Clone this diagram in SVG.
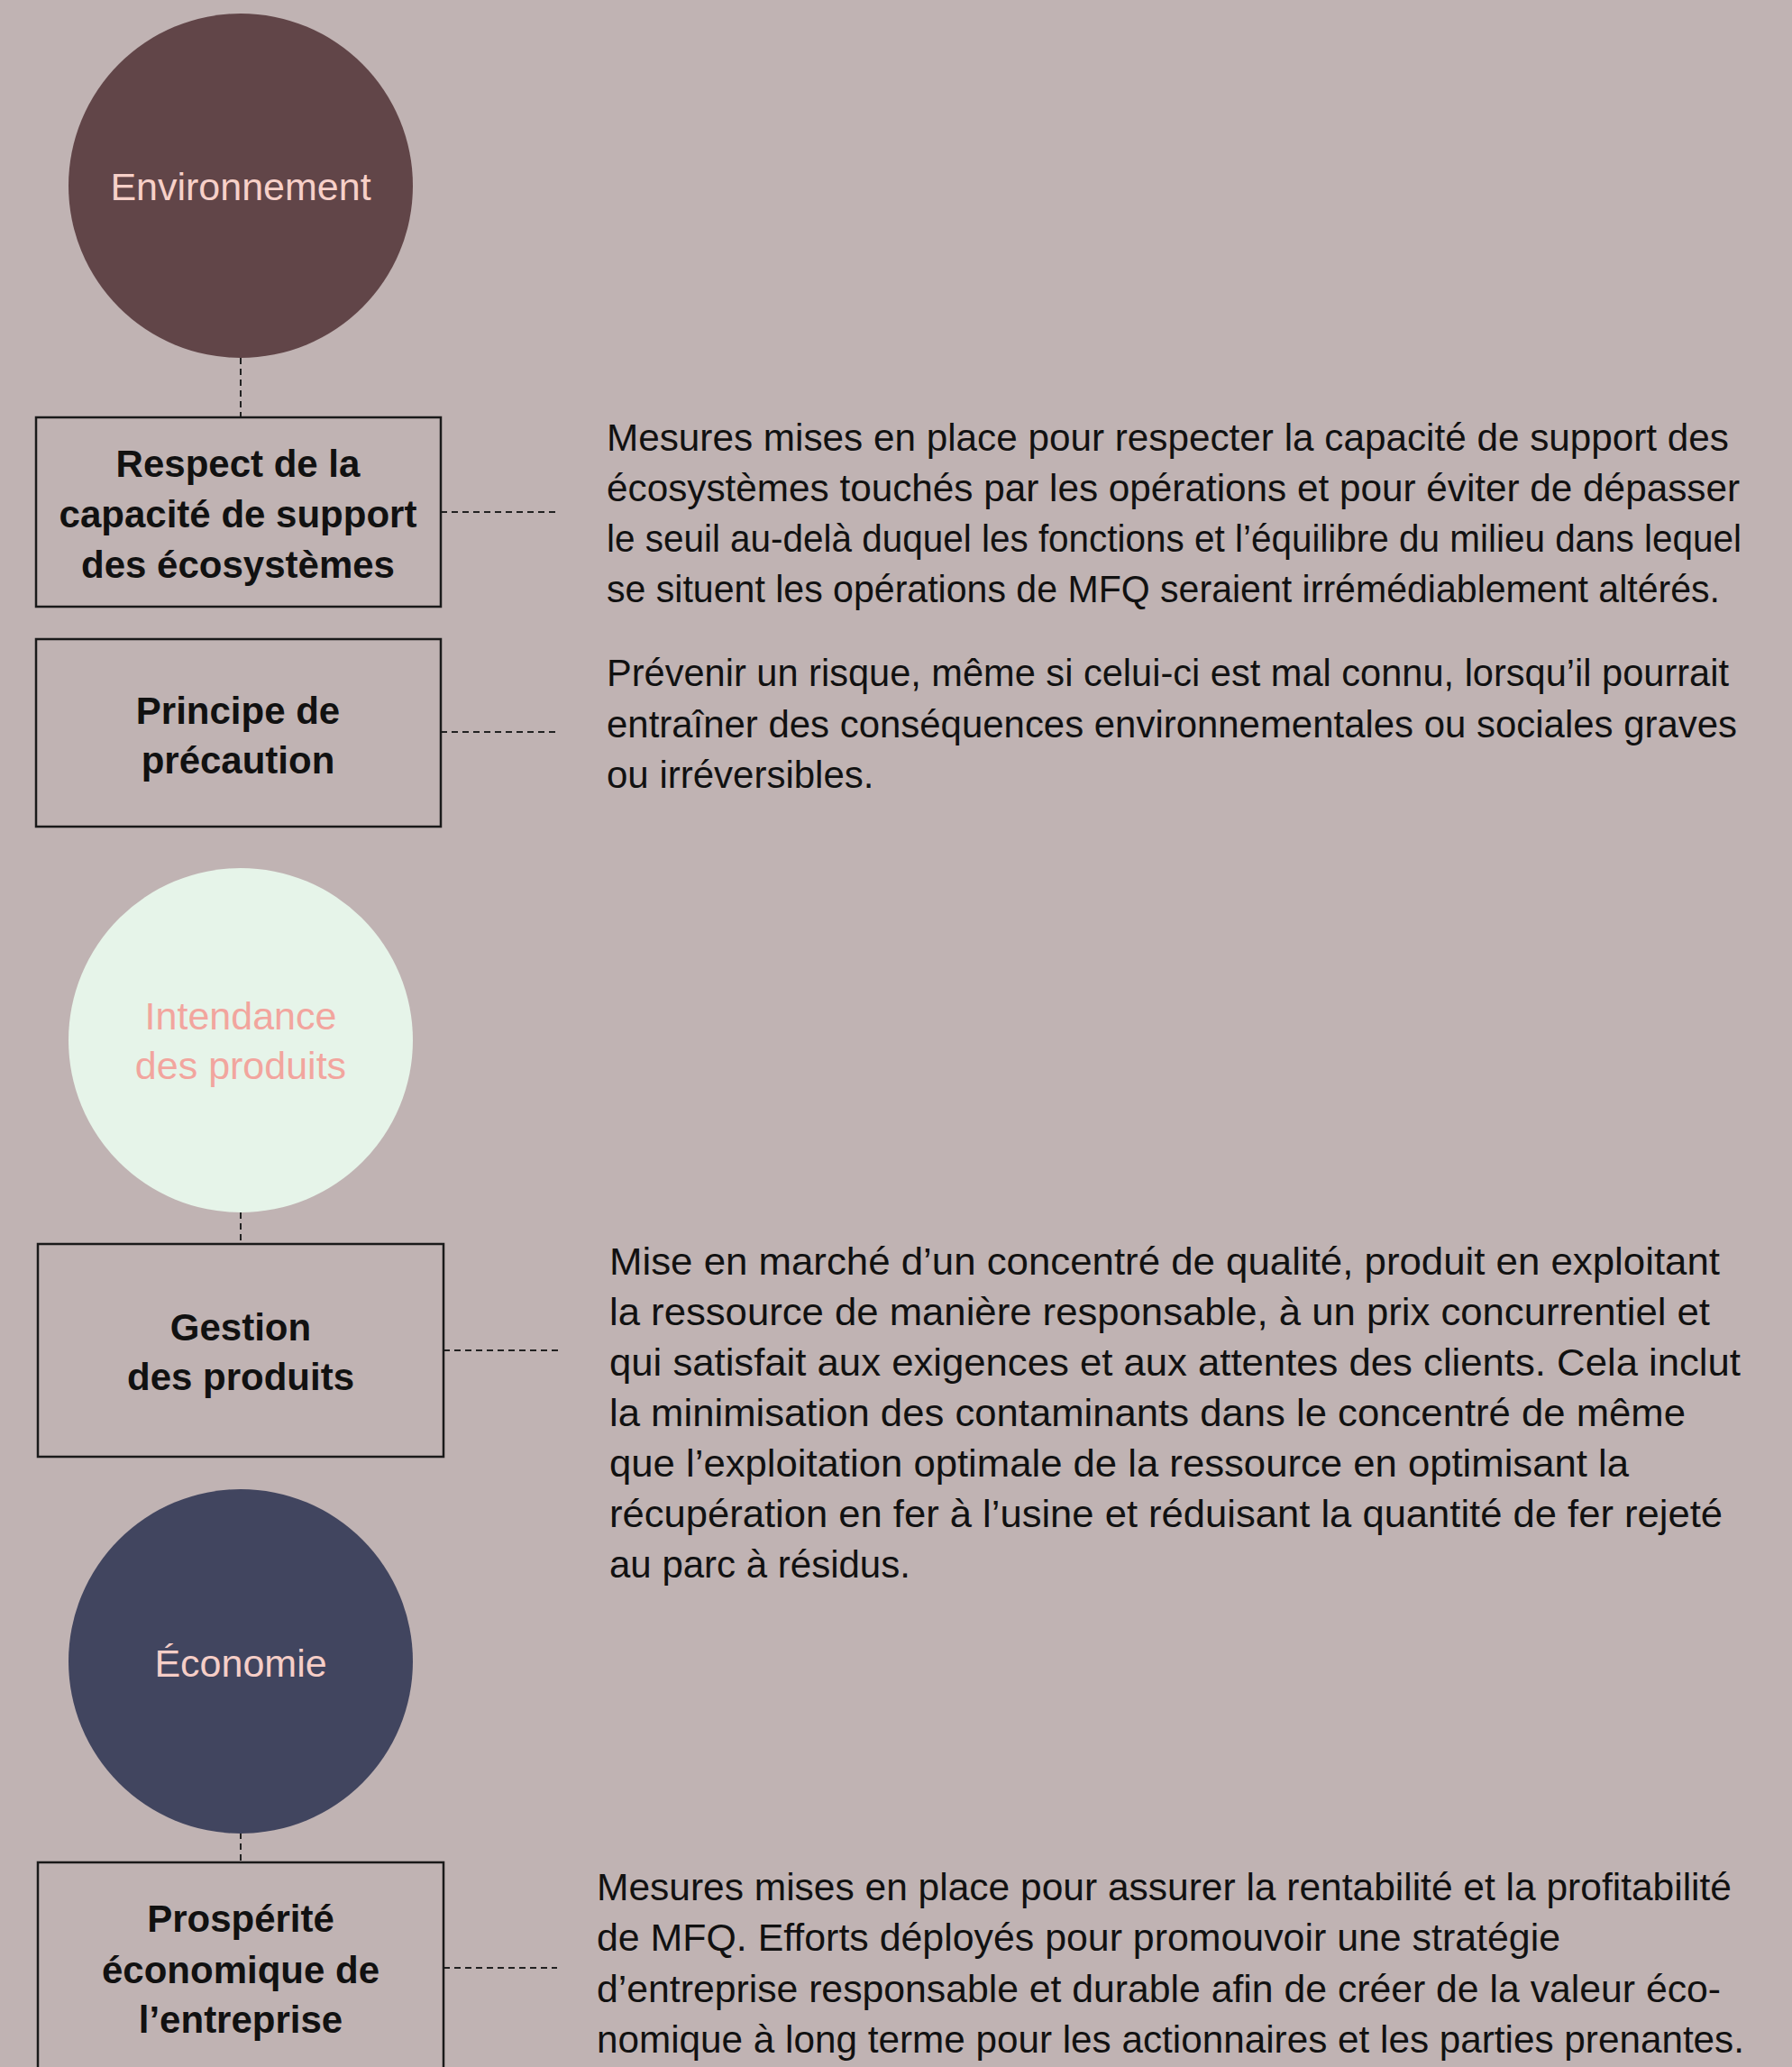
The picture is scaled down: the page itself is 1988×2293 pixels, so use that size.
<svg xmlns="http://www.w3.org/2000/svg" width="1988" height="2293" viewBox="0 0 1988 2293">
  <style>
    .bg { fill: #c0b3b3; }
    .box { fill: none; stroke: #1a1a1a; stroke-width: 2.5; }
    .conn { stroke: #222; stroke-width: 2; stroke-dasharray: 7 5; fill: none; }
    .boxlabel { font-family: "Liberation Sans", Arial, sans-serif; font-size: 42px; font-weight: bold; fill: #111; text-anchor: middle; }
    .circlelabel { font-family: "Liberation Sans", Arial, sans-serif; font-size: 43px; text-anchor: middle; }
    .desc { font-family: "Liberation Sans", Arial, sans-serif; font-size: 42px; fill: #111; }
  </style>
  <rect class="bg" x="0" y="0" width="1988" height="2293"/>

  <g id="connectors">
    <line class="conn" x1="267" y1="397" x2="267" y2="463"/>
    <line class="conn" x1="489" y1="568" x2="618" y2="568"/>
    <line class="conn" x1="489" y1="812" x2="618" y2="812"/>
    <line class="conn" x1="267" y1="1345" x2="267" y2="1380"/>
    <line class="conn" x1="492" y1="1498" x2="620" y2="1498"/>
    <line class="conn" x1="267" y1="2033" x2="267" y2="2066"/>
    <line class="conn" x1="492" y1="2183" x2="618" y2="2183"/>
  </g>

  <g id="environnement">
    <circle cx="267" cy="206" r="191" fill="#614548"/>
    <text class="circlelabel" x="267" y="222" fill="#f7d0c8">Environnement</text>
  </g>

  <g id="respect-capacite">
    <rect class="box" x="40" y="463" width="449" height="210"/>
    <text class="boxlabel" x="264" y="529">Respect de la</text>
    <text class="boxlabel" x="264" y="585">capacité de support</text>
    <text class="boxlabel" x="264" y="641">des écosystèmes</text>
  </g>

  <g id="desc-respect">
    <text class="desc" x="673" y="500" textLength="1245" lengthAdjust="spacingAndGlyphs">Mesures mises en place pour respecter la capacité de support des</text>
    <text class="desc" x="673" y="556" textLength="1257" lengthAdjust="spacingAndGlyphs">écosystèmes touchés par les opérations et pour éviter de dépasser</text>
    <text class="desc" x="673" y="612" textLength="1259" lengthAdjust="spacingAndGlyphs">le seuil au-delà duquel les fonctions et l’équilibre du milieu dans lequel</text>
    <text class="desc" x="673" y="668" textLength="1235" lengthAdjust="spacingAndGlyphs">se situent les opérations de MFQ seraient irrémédiablement altérés.</text>
  </g>

  <g id="principe-precaution">
    <rect class="box" x="40" y="709" width="449" height="208"/>
    <text class="boxlabel" x="264" y="803">Principe de</text>
    <text class="boxlabel" x="264" y="858">précaution</text>
  </g>

  <g id="desc-principe">
    <text class="desc" x="673" y="761" textLength="1245" lengthAdjust="spacingAndGlyphs">Prévenir un risque, même si celui-ci est mal connu, lorsqu’il pourrait</text>
    <text class="desc" x="673" y="818" textLength="1254" lengthAdjust="spacingAndGlyphs">entraîner des conséquences environnementales ou sociales graves</text>
    <text class="desc" x="673" y="874">ou irréversibles.</text>
  </g>

  <g id="intendance">
    <circle cx="267" cy="1154" r="191" fill="#e6f4e9"/>
    <text class="circlelabel" x="267" y="1142" fill="#f2a59e">Intendance</text>
    <text class="circlelabel" x="267" y="1197" fill="#f2a59e">des produits</text>
  </g>

  <g id="gestion-produits">
    <rect class="box" x="42" y="1380" width="450" height="236"/>
    <text class="boxlabel" x="267" y="1487">Gestion</text>
    <text class="boxlabel" x="267" y="1542">des produits</text>
  </g>

  <g id="desc-gestion">
    <text class="desc" x="676" y="1414" textLength="1232" lengthAdjust="spacingAndGlyphs">Mise en marché d’un concentré de qualité, produit en exploitant</text>
    <text class="desc" x="676" y="1470" textLength="1221" lengthAdjust="spacingAndGlyphs">la ressource de manière responsable, à un prix concurrentiel et</text>
    <text class="desc" x="676" y="1526" textLength="1255" lengthAdjust="spacingAndGlyphs">qui satisfait aux exigences et aux attentes des clients. Cela inclut</text>
    <text class="desc" x="676" y="1582" textLength="1194" lengthAdjust="spacingAndGlyphs">la minimisation des contaminants dans le concentré de même</text>
    <text class="desc" x="676" y="1638" textLength="1131" lengthAdjust="spacingAndGlyphs">que l’exploitation optimale de la ressource en optimisant la</text>
    <text class="desc" x="676" y="1694" textLength="1235" lengthAdjust="spacingAndGlyphs">récupération en fer à l’usine et réduisant la quantité de fer rejeté</text>
    <text class="desc" x="676" y="1750">au parc à résidus.</text>
  </g>

  <g id="economie">
    <circle cx="267" cy="1843" r="191" fill="#41455f"/>
    <text class="circlelabel" x="267" y="1860" fill="#f6cec7">Économie</text>
  </g>

  <g id="prosperite">
    <rect class="box" x="42" y="2066" width="450" height="236"/>
    <text class="boxlabel" x="267" y="2143">Prospérité</text>
    <text class="boxlabel" x="267" y="2200">économique de</text>
    <text class="boxlabel" x="267" y="2255">l’entreprise</text>
  </g>

  <g id="desc-prosperite">
    <text class="desc" x="662" y="2108" textLength="1259" lengthAdjust="spacingAndGlyphs">Mesures mises en place pour assurer la rentabilité et la profitabilité</text>
    <text class="desc" x="662" y="2164" textLength="1069" lengthAdjust="spacingAndGlyphs">de MFQ. Efforts déployés pour promouvoir une stratégie</text>
    <text class="desc" x="662" y="2221" textLength="1247" lengthAdjust="spacingAndGlyphs">d’entreprise responsable et durable afin de créer de la valeur éco-</text>
    <text class="desc" x="662" y="2277" textLength="1273" lengthAdjust="spacingAndGlyphs">nomique à long terme pour les actionnaires et les parties prenantes.</text>
  </g>
</svg>
